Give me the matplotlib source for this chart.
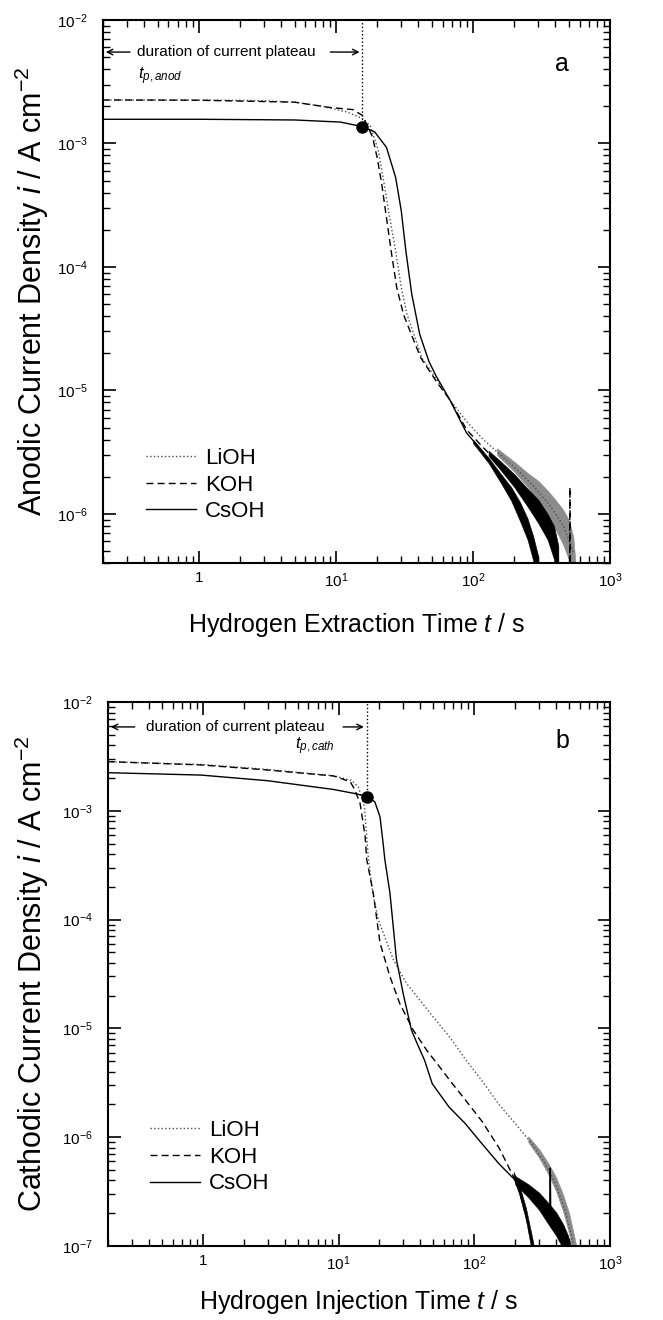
import matplotlib
matplotlib.use("Agg")
import numpy as np
import matplotlib.pyplot as plt
from matplotlib.ticker import FuncFormatter, LogLocator, NullFormatter

plt.rcParams['font.family'] = ['Liberation Sans', 'DejaVu Sans']
plt.rcParams['mathtext.fontset'] = 'custom'
plt.rcParams['mathtext.rm'] = 'Liberation Sans'
plt.rcParams['mathtext.it'] = 'Liberation Sans:italic'
plt.rcParams['mathtext.default'] = 'regular'

# ---------------- panel a: hydrogen extraction (anodic) ----------------
lioh_a_t = [0.2, 1, 3, 5, 8, 12, 15.5, 17.8, 20.4, 22.5, 24.7, 27.3, 30.0, 33.1,
            38.6, 42.5, 55, 67.8, 90, 119, 157, 208, 275, 364, 456, 540]
lioh_a_i = [2.25e-3, 2.25e-3, 2.22e-3, 2.16e-3, 2.0e-3, 1.8e-3, 1.6e-3, 1.40e-3,
            8.8e-4, 4.7e-4, 2.5e-4, 1.35e-4, 6.8e-5, 4.1e-5, 2.5e-5, 1.83e-5, 1.2e-5,
            8.4e-6, 5.6e-6, 4.0e-6, 3.04e-6, 2.3e-6, 1.69e-6, 1.17e-6, 8.05e-7, 4.9e-7]

koh_a_t = [0.2, 1, 5.0, 8.9, 13.3, 15.6, 18.5, 20.0, 21.6, 23.4, 25.3, 27.8, 31.2,
           37.2, 41.7, 55, 67.8, 90, 119, 157, 208, 275, 344, 385, 420, 450,
           508, 510, 513]
koh_a_i = [2.25e-3, 2.24e-3, 2.16e-3, 1.96e-3, 1.88e-3, 1.69e-3, 1.13e-3, 7.7e-4,
           4.7e-4, 2.5e-4, 1.35e-4, 6.8e-5, 4.1e-5, 2.5e-5, 1.83e-5, 1.15e-5, 8.4e-6,
           4.8e-6, 3.44e-6, 2.52e-6, 1.8e-6, 1.24e-6, 8.6e-7, 6.3e-7, 4.1e-7, 3e-7,
           3e-7, 1.64e-6, 3e-7]

csoh_a_t = [0.2, 1, 5, 10.8, 15.6, 19.2, 23.4, 27.3, 30.0, 32.4, 35.8, 40.9, 47.7,
            54, 67.8, 89.7, 119, 157, 197, 233, 260, 291, 300]
csoh_a_i = [1.57e-3, 1.57e-3, 1.55e-3, 1.49e-3, 1.37e-3, 1.24e-3, 9.3e-4, 5.3e-4,
            2.85e-4, 1.35e-4, 6.0e-5, 2.85e-5, 1.72e-5, 1.3e-5, 8.4e-6, 4.54e-6,
            3.13e-6, 2.03e-6, 1.40e-6, 9.7e-7, 6.7e-7, 4.1e-7, 3e-7]

# noisy tails (envelopes)
lioh_a_band_t = [150, 200, 250, 300, 350, 400, 450, 500, 540, 560]
lioh_a_band_lo = [3.0e-6, 2.2e-6, 1.65e-6, 1.25e-6, 9.5e-7, 7.5e-7, 5.8e-7, 4.3e-7, 3.5e-7, 3.0e-7]
lioh_a_band_hi = [3.4e-6, 2.65e-6, 2.15e-6, 1.85e-6, 1.55e-6, 1.3e-6, 1.1e-6, 9.0e-7, 6.5e-7, 4.0e-7]

koh_a_band_t = [130, 160, 200, 250, 300, 350, 390, 420]
koh_a_band_lo = [2.95e-6, 2.25e-6, 1.65e-6, 1.15e-6, 8.4e-7, 6.2e-7, 4.3e-7, 3.0e-7]
koh_a_band_hi = [3.25e-6, 2.65e-6, 2.1e-6, 1.6e-6, 1.3e-6, 1.0e-6, 8.0e-7, 5.5e-7]

csoh_a_band_t = [100, 130, 160, 190, 220, 250, 275, 300]
csoh_a_band_lo = [3.75e-6, 2.58e-6, 1.78e-6, 1.28e-6, 8.8e-7, 6.2e-7, 4.2e-7, 2.8e-7]
csoh_a_band_hi = [4.0e-6, 2.85e-6, 2.1e-6, 1.65e-6, 1.25e-6, 9.2e-7, 6.6e-7, 4.5e-7]

tp_a, ip_a = 15.6, 1.37e-3

# ---------------- panel b: hydrogen injection (cathodic) ----------------
lioh_b_t = [0.2, 1, 3, 9.2, 12.5, 14, 15.5, 16.6, 17.8, 19.6, 25.3, 31.6, 39.6,
            49.6, 65.6, 86.9, 114, 152, 201, 266, 333, 395, 468, 524, 545]
lioh_b_i = [2.83e-3, 2.66e-3, 2.4e-3, 2.1e-3, 1.9e-3, 1.65e-3, 1.1e-3, 3.6e-4,
            1.8e-4, 1.0e-4, 4.3e-5, 2.6e-5, 1.83e-5, 1.28e-5, 8.4e-6, 5.1e-6,
            3.3e-6, 2.0e-6, 1.33e-6, 8.7e-7, 5.7e-7, 3.8e-7, 2.1e-7, 1.2e-7, 9e-8]

koh_b_t = [0.2, 0.97, 3.0, 9.2, 12.2, 13.2, 14.4, 15.7, 16.1, 18.0, 20.2, 23.9,
           28.2, 35.4, 45, 55, 69, 86, 114, 152, 190, 213, 238, 266, 290]
koh_b_i = [2.83e-3, 2.64e-3, 2.37e-3, 2.09e-3, 1.85e-3, 1.55e-3, 1.17e-3, 5.8e-4,
           3.6e-4, 1.76e-4, 6.1e-5, 3.0e-5, 1.7e-5, 9.7e-6, 6.2e-6, 4.5e-6, 3.1e-6,
           2.2e-6, 1.4e-6, 8.0e-7, 4.6e-7, 3.3e-7, 2.0e-7, 1.06e-7, 7e-8]

csoh_b_t = [0.2, 0.97, 3.0, 9.2, 13.6, 16.1, 18.5, 20.2, 21.3, 21.9, 23.9, 26.7,
            29.9, 34.4, 37, 43, 49, 65, 86, 114, 152, 190, 240, 298, 360, 363, 366,
            373, 430, 468, 490, 510]
csoh_b_i = [2.24e-3, 2.13e-3, 1.89e-3, 1.57e-3, 1.43e-3, 1.35e-3, 1.21e-3, 8.8e-4,
            5.0e-4, 3.6e-4, 1.76e-4, 4.3e-5, 2.1e-5, 9.7e-6, 7.8e-6, 5.1e-6, 3.1e-6,
            1.9e-6, 1.33e-6, 8.7e-7, 5.7e-7, 4.3e-7, 3.3e-7, 2.64e-7, 1.95e-7, 5.2e-7,
            1.9e-7, 1.86e-7, 1.4e-7, 1.13e-7, 1.0e-7, 8e-8]

lioh_b_band_t = [250, 300, 350, 400, 450, 500, 540, 560]
lioh_b_band_lo = [9.0e-7, 6.5e-7, 4.6e-7, 3.2e-7, 2.1e-7, 1.3e-7, 8e-8, 8e-8]
lioh_b_band_hi = [1.02e-6, 7.8e-7, 5.8e-7, 4.3e-7, 3.0e-7, 2.0e-7, 1.3e-7, 1.05e-7]

koh_b_band_t = [195, 215, 240, 265, 285]
koh_b_band_lo = [4.2e-7, 2.95e-7, 1.75e-7, 9e-8, 6e-8]
koh_b_band_hi = [4.8e-7, 3.6e-7, 2.25e-7, 1.25e-7, 8e-8]

csoh_b_band_t = [200, 250, 300, 350, 400, 450, 490, 510]
csoh_b_band_lo = [3.7e-7, 2.8e-7, 2.15e-7, 1.6e-7, 1.25e-7, 9.5e-8, 8e-8, 8e-8]
csoh_b_band_hi = [4.4e-7, 3.7e-7, 3.1e-7, 2.5e-7, 2.05e-7, 1.6e-7, 1.25e-7, 1.05e-7]

tp_b, ip_b = 16.1, 1.35e-3

labels = ['LiOH', 'KOH', 'CsOH']


def xfmt(v, pos):
    if abs(v - 1) < 1e-9:
        return '1'
    return r'10$^{%d}$' % round(np.log10(v))


def yfmt(v, pos):
    return r'10$^{%d}$' % round(np.log10(v))


def style_axes(ax, ylim):
    ax.set_xscale('log')
    ax.set_yscale('log')
    ax.set_xlim(0.2, 1000)
    ax.set_ylim(*ylim)
    ax.xaxis.set_major_locator(LogLocator(base=10, numticks=10))
    ax.yaxis.set_major_locator(LogLocator(base=10, numticks=10))
    ax.xaxis.set_minor_locator(LogLocator(base=10, subs=range(2, 10), numticks=20))
    ax.yaxis.set_minor_locator(LogLocator(base=10, subs=range(2, 10), numticks=20))
    ax.xaxis.set_major_formatter(FuncFormatter(xfmt))
    ax.yaxis.set_major_formatter(FuncFormatter(yfmt))
    ax.xaxis.set_minor_formatter(NullFormatter())
    ax.yaxis.set_minor_formatter(NullFormatter())
    ax.tick_params(which='both', direction='in', top=True, right=True, labelsize=11)
    ax.tick_params(which='major', length=9, width=1.2)
    ax.tick_params(which='minor', length=5, width=1.0)
    ax.tick_params(axis='x', which='major', pad=6)
    ax.tick_params(axis='y', which='major', pad=11)
    for s in ax.spines.values():
        s.set_linewidth(1.5)


def draw_panel(ax, li, ko, cs, bands, tp, ip, tag, ylim, ylabel, xlabel,
               tlabel, arrow_y, tlab_pos, text_x, right_tail, leg_anchor):
    style_axes(ax, ylim)
    (lt, lv), (kt, kv), (ct, cv) = li, ko, cs
    ax.plot(lt, lv, ls=':', color='0.3', lw=1.0, label=labels[0])
    ax.plot(kt, kv, ls=(0, (5, 3)), color='black', lw=1.0, label=labels[1])
    ax.plot(ct, cv, ls='-', color='black', lw=1.0, label=labels[2])
    for (bt, blo, bhi), col in zip(bands, ['0.55', 'black', 'black']):
        ax.fill_between(bt, blo, bhi, color=col, lw=0.4, edgecolor=col)
    ax.plot([tp, tp], [ip, ylim[1]], ls=':', color='black', lw=1.0)
    ax.plot([tp], [ip], 'o', color='black', ms=8)
    ax.annotate('', xy=(0.2, arrow_y), xytext=(0.33, arrow_y),
                arrowprops=dict(arrowstyle='->', lw=1.0, color='black'))
    ax.annotate('', xy=(tp, arrow_y), xytext=(right_tail, arrow_y),
                arrowprops=dict(arrowstyle='->', lw=1.0, color='black'))
    ax.text(text_x, arrow_y, 'duration of current plateau', ha='left',
            va='center', fontsize=11)
    ax.text(tlab_pos[0], tlab_pos[1], tlabel, ha='left', va='center', fontsize=12)
    ax.text(445, 4.4e-3, tag, ha='center', va='center', fontsize=18)
    ax.set_xlabel(xlabel, fontsize=18, va='center')
    ax.set_ylabel(ylabel, fontsize=22, va='center')
    ax.legend(loc='lower left', bbox_to_anchor=leg_anchor, frameon=False,
              fontsize=16, handlelength=2.25, handletextpad=0.4,
              labelspacing=0.25, borderpad=0, borderaxespad=0)


fig = plt.figure(figsize=(6.63, 13.2), dpi=100)
ax1 = fig.add_axes([103 / 663, 1 - 563 / 1320, 507 / 663, 543 / 1320])
ax2 = fig.add_axes([108 / 663, 1 - 1246 / 1320, 502 / 663, 544 / 1320])

draw_panel(ax1, (lioh_a_t, lioh_a_i), (koh_a_t, koh_a_i), (csoh_a_t, csoh_a_i),
           [(lioh_a_band_t, lioh_a_band_lo, lioh_a_band_hi),
            (koh_a_band_t, koh_a_band_lo, koh_a_band_hi),
            (csoh_a_band_t, csoh_a_band_lo, csoh_a_band_hi)],
           tp_a, ip_a, 'a', (4e-7, 1e-2),
           r'Anodic Current Density $\mathit{i}$ / A cm$^{-2}$',
           r'Hydrogen Extraction Time $\mathit{t}$ / s',
           r'$\mathit{t}_{\mathit{p,anod}}$', 5.5e-3, (0.36, 3.5e-3), 0.355, 8.7,
           (0.085, 0.075))
draw_panel(ax2, (lioh_b_t, lioh_b_i), (koh_b_t, koh_b_i), (csoh_b_t, csoh_b_i),
           [(lioh_b_band_t, lioh_b_band_lo, lioh_b_band_hi),
            (koh_b_band_t, koh_b_band_lo, koh_b_band_hi),
            (csoh_b_band_t, csoh_b_band_lo, csoh_b_band_hi)],
           tp_b, ip_b, 'b', (1e-7, 1e-2),
           r'Cathodic Current Density $\mathit{i}$ / A cm$^{-2}$',
           r'Hydrogen Injection Time $\mathit{t}$ / s',
           r'$\mathit{t}_{\mathit{p,cath}}$', 5.9e-3, (4.8, 3.9e-3), 0.38, 10.3,
           (0.084, 0.095))

ax1.yaxis.set_label_coords(-0.14, 0.5)
ax1.xaxis.set_label_coords(0.5, -0.114)
ax2.yaxis.set_label_coords(-0.151, 0.5)
ax2.xaxis.set_label_coords(0.5, -0.103)

fig.savefig('out.png', dpi=100)
